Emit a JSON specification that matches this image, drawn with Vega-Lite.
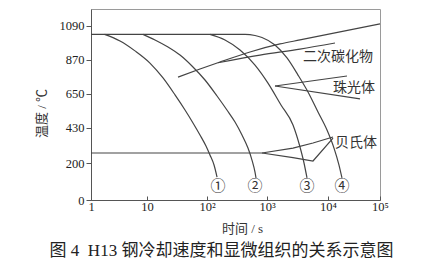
{
  "$schema": "https://vega.github.io/schema/vega-lite/v6.json",
  "autosize": "none",
  "width": 289,
  "height": 191,
  "padding": {"left": 91, "top": 9, "right": 61, "bottom": 61},
  "background": "white",
  "title": {
    "text": "图 4\u2002H13 钢冷却速度和显微组织的关系示意图",
    "orient": "bottom",
    "anchor": "middle",
    "frame": "group",
    "dx": -14,
    "offset": 8,
    "font": "Liberation Serif, Noto Sans CJK SC",
    "fontSize": 17,
    "fontWeight": "normal",
    "color": "#222"
  },
  "config": {
    "view": {"stroke": "#9a9a9a", "strokeWidth": 1},
    "axis": {
      "grid": false,
      "domainColor": "#555",
      "tickColor": "#555",
      "labelColor": "#222",
      "labelFont": "Liberation Serif",
      "labelFontSize": 12.5,
      "titleFont": "Liberation Serif, Noto Sans CJK SC",
      "titleFontSize": 13,
      "titleFontWeight": "normal",
      "titleColor": "#333"
    }
  },
  "datasets": {
    "lines": [
      {"s": "c1", "k": "curve", "t": 1.75, "T": 1035},
      {"s": "c1", "k": "curve", "t": 3.3, "T": 992},
      {"s": "c1", "k": "curve", "t": 6.1, "T": 928},
      {"s": "c1", "k": "curve", "t": 11.2, "T": 849},
      {"s": "c1", "k": "curve", "t": 18.5, "T": 752},
      {"s": "c1", "k": "curve", "t": 29.3, "T": 642},
      {"s": "c1", "k": "curve", "t": 43, "T": 544},
      {"s": "c1", "k": "curve", "t": 58.4, "T": 460},
      {"s": "c1", "k": "curve", "t": 76.4, "T": 382},
      {"s": "c1", "k": "curve", "t": 96.2, "T": 310},
      {"s": "c1", "k": "curve", "t": 112, "T": 252},
      {"s": "c1", "k": "curve", "t": 131, "T": 189},
      {"s": "c1", "k": "curve", "t": 147, "T": 124},

      {"s": "c2", "k": "curve", "t": 8.48, "T": 1035},
      {"s": "c2", "k": "curve", "t": 13.6, "T": 999},
      {"s": "c2", "k": "curve", "t": 22.4, "T": 953},
      {"s": "c2", "k": "curve", "t": 35.5, "T": 901},
      {"s": "c2", "k": "curve", "t": 56.2, "T": 830},
      {"s": "c2", "k": "curve", "t": 92.6, "T": 739},
      {"s": "c2", "k": "curve", "t": 147, "T": 635},
      {"s": "c2", "k": "curve", "t": 215, "T": 544},
      {"s": "c2", "k": "curve", "t": 293, "T": 466},
      {"s": "c2", "k": "curve", "t": 383, "T": 382},
      {"s": "c2", "k": "curve", "t": 482, "T": 297},
      {"s": "c2", "k": "curve", "t": 562, "T": 219},
      {"s": "c2", "k": "curve", "t": 631, "T": 151},
      {"s": "c2", "k": "curve", "t": 656, "T": 119},

      {"s": "c3", "k": "curve", "t": 112, "T": 1035},
      {"s": "c3", "k": "curve", "t": 199.5, "T": 999},
      {"s": "c3", "k": "curve", "t": 355, "T": 934},
      {"s": "c3", "k": "curve", "t": 631, "T": 836},
      {"s": "c3", "k": "curve", "t": 1038, "T": 719},
      {"s": "c3", "k": "curve", "t": 1696, "T": 577},
      {"s": "c3", "k": "curve", "t": 2668, "T": 447},
      {"s": "c3", "k": "curve", "t": 3475, "T": 304},
      {"s": "c3", "k": "curve", "t": 4043, "T": 200},
      {"s": "c3", "k": "curve", "t": 4528, "T": 119},

      {"s": "c4", "k": "curve", "t": 1, "T": 1035},
      {"s": "c4", "k": "curve", "t": 430, "T": 1035},
      {"s": "c4", "k": "curve", "t": 631, "T": 1028},
      {"s": "c4", "k": "curve", "t": 825, "T": 1015},
      {"s": "c4", "k": "curve", "t": 1352, "T": 966},
      {"s": "c4", "k": "curve", "t": 2128, "T": 882},
      {"s": "c4", "k": "curve", "t": 3223, "T": 771},
      {"s": "c4", "k": "curve", "t": 4700, "T": 661},
      {"s": "c4", "k": "curve", "t": 6857, "T": 531},
      {"s": "c4", "k": "curve", "t": 9630, "T": 414},
      {"s": "c4", "k": "curve", "t": 13045, "T": 297},
      {"s": "c4", "k": "curve", "t": 16276, "T": 189},
      {"s": "c4", "k": "curve", "t": 18588, "T": 119},

      {"s": "carbA", "k": "curve", "t": 32.9, "T": 758},
      {"s": "carbA", "k": "curve", "t": 76.4, "T": 810},
      {"s": "carbA", "k": "curve", "t": 164.7, "T": 856},
      {"s": "carbA", "k": "curve", "t": 521, "T": 921},
      {"s": "carbA", "k": "curve", "t": 1634, "T": 973},
      {"s": "carbA", "k": "curve", "t": 3475, "T": 999},
      {"s": "carbA", "k": "curve", "t": 17012, "T": 1051},
      {"s": "carbA", "k": "curve", "t": 100000, "T": 1103},

      {"s": "carbB", "k": "curve", "t": 152.5, "T": 851},
      {"s": "carbB", "k": "curve", "t": 764, "T": 901},
      {"s": "carbB", "k": "curve", "t": 3475, "T": 940},
      {"s": "carbB", "k": "curve", "t": 13633, "T": 979},

      {"s": "pearlA", "k": "straight", "t": 1352, "T": 700},
      {"s": "pearlA", "k": "straight", "t": 23200, "T": 765},
      {"s": "pearlB", "k": "straight", "t": 1352, "T": 700},
      {"s": "pearlB", "k": "straight", "t": 41260, "T": 616},

      {"s": "bainA", "k": "straight", "t": 1, "T": 265},
      {"s": "bainA", "k": "straight", "t": 825, "T": 265},
      {"s": "bainA", "k": "straight", "t": 2668, "T": 297},
      {"s": "bainA", "k": "straight", "t": 5677, "T": 330},
      {"s": "bainA", "k": "straight", "t": 12480, "T": 369},
      {"s": "bainB", "k": "straight", "t": 825, "T": 265},
      {"s": "bainB", "k": "straight", "t": 2668, "T": 235},
      {"s": "bainB", "k": "straight", "t": 5677, "T": 213},
      {"s": "bainB", "k": "straight", "t": 12480, "T": 362}
    ],
    "labels": [
      {"t": 3890, "T": 888, "label": "二次碳化物"},
      {"t": 12480, "T": 687, "label": "珠光体"},
      {"t": 13633, "T": 330, "label": "贝氏体"}
    ],
    "marks": [
      {"t": 152.5, "T": 76, "label": "①"},
      {"t": 631, "T": 76, "label": "②"},
      {"t": 4528, "T": 76, "label": "③"},
      {"t": 18588, "T": 76, "label": "④"}
    ]
  },
  "encoding": {
    "x": {
      "field": "t",
      "type": "quantitative",
      "scale": {"type": "log", "domain": [1, 10, 100, 1000, 10000, 100000], "range": [0, 56, 116, 176, 237, 289], "nice": false},
      "axis": {
        "title": "时间 / s",
        "titleX": 151,
        "titleY": 28,
        "titleBaseline": "middle",
        "values": [1, 10, 100, 1000, 10000, 100000],
        "labelExpr": "datum.value == 1 ? '1' : datum.value == 10 ? '10' : datum.value == 100 ? '10²' : datum.value == 1000 ? '10³' : datum.value == 10000 ? '10⁴' : '10⁵'",
        "tickSize": -4,
        "labelPadding": 4,
        "labelFlush": false
      }
    },
    "y": {
      "field": "T",
      "type": "quantitative",
      "scale": {"domain": [0, 200, 1200], "range": [191, 154, 0], "nice": false, "zero": false},
      "axis": {
        "title": "温度 / ℃",
        "titleX": -50,
        "titleY": 104,
        "titleBaseline": "middle",
        "values": [0, 200, 430, 650, 870, 1090],
        "format": "d",
        "tickSize": 5,
        "labelPadding": 2
      }
    }
  },
  "layer": [
    {
      "data": {"name": "lines"},
      "transform": [{"filter": "datum.k == 'curve'"}],
      "mark": {"type": "line", "interpolate": "monotone", "color": "#444", "strokeWidth": 1.2},
      "encoding": {"detail": {"field": "s"}}
    },
    {
      "data": {"name": "lines"},
      "transform": [{"filter": "datum.k == 'straight'"}],
      "mark": {"type": "line", "interpolate": "linear", "color": "#444", "strokeWidth": 1.2},
      "encoding": {"detail": {"field": "s"}}
    },
    {
      "data": {"name": "labels"},
      "mark": {"type": "text", "align": "left", "baseline": "middle", "font": "Noto Sans CJK SC", "fontSize": 14, "color": "#333"},
      "encoding": {"text": {"field": "label"}}
    },
    {
      "data": {"name": "marks"},
      "mark": {"type": "text", "align": "center", "baseline": "middle", "font": "Noto Sans CJK SC", "fontSize": 15, "color": "#333"},
      "encoding": {"text": {"field": "label"}}
    }
  ]
}
